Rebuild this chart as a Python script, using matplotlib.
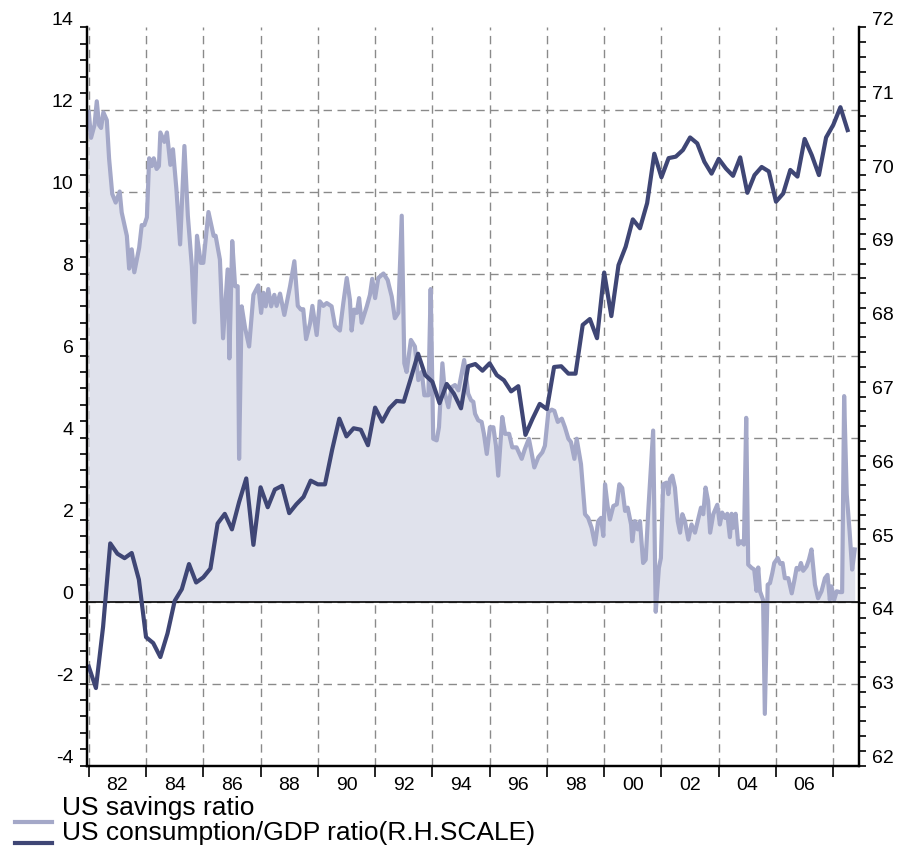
import matplotlib
matplotlib.use("Agg")
import matplotlib.pyplot as plt
import numpy as np
from matplotlib.lines import Line2D
from matplotlib.ticker import MultipleLocator
from matplotlib.transforms import ScaledTranslation

plt.rcParams["font.family"] = ["Liberation Sans", "DejaVu Sans"]
plt.rcParams["axes.unicode_minus"] = False

# US savings ratio (%), left scale (irregular vertices)
sav_years = [
    1981.00, 1981.08, 1981.20, 1981.28, 1981.36, 1981.43, 1981.51, 1981.63, 1981.71, 1981.82,
    1981.94, 1982.08, 1982.15, 1982.33, 1982.41, 1982.50, 1982.59, 1982.76, 1982.85, 1982.94,
    1983.03, 1983.11, 1983.20, 1983.27, 1983.37, 1983.45, 1983.50, 1983.64, 1983.73, 1983.85,
    1983.94, 1984.06, 1984.19, 1984.34, 1984.46, 1984.60, 1984.69, 1984.78, 1984.91, 1985.00,
    1985.18, 1985.36, 1985.43, 1985.58, 1985.69, 1985.85, 1985.91, 1986.01, 1986.11, 1986.20,
    1986.25, 1986.34, 1986.46, 1986.60, 1986.75, 1986.92, 1987.02, 1987.10, 1987.18, 1987.27,
    1987.37, 1987.48, 1987.56, 1987.68, 1987.83, 1988.03, 1988.18, 1988.30, 1988.41, 1988.49,
    1988.59, 1988.73, 1988.81, 1988.96, 1989.07, 1989.19, 1989.31, 1989.48, 1989.60, 1989.77,
    1989.89, 1990.01, 1990.12, 1990.18, 1990.27, 1990.36, 1990.44, 1990.53, 1990.71, 1990.82,
    1990.90, 1991.00, 1991.11, 1991.29, 1991.44, 1991.49, 1991.58, 1991.69, 1991.81, 1991.93,
    1992.02, 1992.10, 1992.25, 1992.39, 1992.51, 1992.63, 1992.72, 1992.86, 1992.94, 1993.03,
    1993.15, 1993.23, 1993.35, 1993.44, 1993.56, 1993.67, 1993.79, 1993.91, 1994.00, 1994.11,
    1994.25, 1994.35, 1994.43, 1994.49, 1994.60, 1994.72, 1994.80, 1994.90, 1995.01, 1995.13,
    1995.22, 1995.30, 1995.44, 1995.54, 1995.68, 1995.79, 1995.94, 1996.12, 1996.23, 1996.37,
    1996.44, 1996.56, 1996.70, 1996.84, 1996.93, 1997.05, 1997.17, 1997.26, 1997.38, 1997.52,
    1997.63, 1997.75, 1997.84, 1997.96, 1998.04, 1998.19, 1998.33, 1998.44, 1998.56, 1998.68,
    1998.79, 1998.89, 1998.97, 1999.03, 1999.12, 1999.20, 1999.32, 1999.44, 1999.53, 1999.63,
    1999.73, 1999.82, 1999.94, 1999.98, 2000.07, 2000.17, 2000.25, 2000.36, 2000.45, 2000.54,
    2000.63, 2000.71, 2000.80, 2000.91, 2000.98, 2001.06, 2001.18, 2001.24, 2001.30, 2001.38,
    2001.47, 2001.57, 2001.65, 2001.73, 2001.82, 2001.94, 2002.05, 2002.17, 2002.28, 2002.38,
    2002.46, 2002.54, 2002.63, 2002.70, 2002.81, 2002.95, 2003.04, 2003.12, 2003.22, 2003.30,
    2003.39, 2003.45, 2003.51, 2003.59, 2003.68, 2003.78, 2003.88, 2003.96, 2004.03, 2004.15,
    2004.24, 2004.32, 2004.38, 2004.44, 2004.55, 2004.61, 2004.71, 2004.79, 2004.87, 2004.94,
    2005.06, 2005.15, 2005.23, 2005.31, 2005.43, 2005.55, 2005.64, 2005.72, 2005.80, 2005.87,
    2005.95, 2006.07, 2006.15, 2006.24, 2006.36, 2006.47, 2006.59, 2006.71, 2006.80, 2006.88,
    2006.94, 2007.03, 2007.12, 2007.23, 2007.31, 2007.38, 2007.47, 2007.57, 2007.66, 2007.75,
]
sav_values = [
    11.94, 11.31, 11.62, 12.20, 11.62, 11.55, 11.93, 11.74, 10.80, 9.94,
    9.73, 10.00, 9.49, 8.92, 8.12, 8.59, 8.03, 8.63, 9.18, 9.18,
    9.37, 10.81, 10.62, 10.81, 10.55, 10.62, 11.44, 11.21, 11.44, 10.65,
    11.03, 10.06, 8.71, 11.11, 9.41, 8.18, 6.81, 8.92, 8.26, 8.26,
    9.50, 8.92, 8.92, 8.34, 6.42, 8.10, 5.93, 8.79, 7.69, 7.69,
    3.48, 7.20, 6.67, 6.22, 7.48, 7.71, 7.04, 7.53, 7.20, 7.62,
    7.20, 7.48, 7.21, 7.51, 6.99, 7.69, 8.30, 7.21, 7.12, 7.13,
    6.40, 6.79, 7.21, 6.50, 7.32, 7.21, 7.28, 7.20, 6.72, 6.61,
    7.28, 7.89, 7.36, 6.61, 7.12, 7.04, 7.40, 6.80, 7.20, 7.48,
    7.87, 7.40, 7.89, 8.00, 7.84, 7.69, 7.44, 6.91, 7.04, 9.41,
    5.81, 5.60, 6.38, 6.22, 5.40, 5.60, 5.03, 5.03, 7.62, 3.97,
    3.93, 4.25, 5.81, 5.07, 4.74, 5.23, 5.28, 5.15, 5.48, 5.89,
    5.07, 4.91, 4.87, 4.58, 4.42, 4.38, 4.09, 3.60, 4.25, 4.25,
    3.80, 3.07, 4.50, 4.09, 4.09, 3.76, 3.76, 3.48, 3.72, 3.97,
    3.72, 3.27, 3.52, 3.64, 3.80, 4.62, 4.68, 4.65, 4.38, 4.46,
    4.25, 3.97, 3.89, 3.48, 3.97, 3.35, 2.13, 2.04, 1.80, 1.39,
    1.96, 2.04, 1.60, 2.86, 2.33, 2.00, 2.33, 2.37, 2.86, 2.77,
    2.21, 2.29, 1.88, 1.47, 1.96, 1.76, 1.96, 0.94, 1.02, 2.21,
    3.27, 4.17, -0.25, 0.82, 1.06, 2.86, 2.90, 2.62, 2.99, 3.07,
    2.78, 1.96, 1.68, 2.13, 1.96, 1.51, 1.88, 1.68, 2.00, 2.29,
    2.13, 2.78, 2.45, 1.68, 2.13, 2.36, 1.88, 2.17, 2.04, 2.14,
    1.57, 2.14, 1.80, 2.14, 1.39, 1.47, 1.39, 4.48, 0.90, 0.82,
    0.78, 0.26, 0.83, 0.25, 0.04, -2.74, 0.41, 0.45, 0.69, 0.94,
    1.06, 0.92, 0.94, 0.57, 0.57, 0.20, 0.51, 0.82, 0.78, 0.94,
    0.75, 0.86, 1.02, 1.27, 0.41, 0.08, 0.25, 0.57, 0.65, 0.04,
    0.37, 0.04, 0.25, 0.23, 0.23, 5.01, 2.62, 1.72, 0.78, 1.27,
]

# US consumption/GDP ratio (%), right scale - quarterly from 1981Q1
cons_start = 1981.0
cons_values = [
    63.34, 63.05, 63.88, 65.01, 64.87, 64.81, 64.88, 64.52, 63.74, 63.66,
    63.47, 63.79, 64.23, 64.39, 64.73, 64.48, 64.55, 64.67, 65.28, 65.41,
    65.20, 65.57, 65.89, 64.99, 65.77, 65.50, 65.74, 65.79, 65.42, 65.54,
    65.64, 65.86, 65.81, 65.81, 66.28, 66.70, 66.46, 66.57, 66.55, 66.34,
    66.85, 66.66, 66.84, 66.94, 66.93, 67.25, 67.58, 67.29, 67.20, 66.91,
    67.17, 67.04, 66.84, 67.41, 67.44, 67.35, 67.45, 67.29, 67.22, 67.07,
    67.14, 66.48, 66.70, 66.90, 66.83, 67.40, 67.41, 67.31, 67.31, 67.97,
    68.05, 67.79, 68.68, 68.09, 68.78, 69.03, 69.40, 69.28, 69.62, 70.29,
    69.97, 70.23, 70.25, 70.34, 70.51, 70.43, 70.18, 70.02, 70.22, 70.09,
    69.99, 70.24, 69.76, 70.00, 70.11, 70.05, 69.64, 69.75, 70.07, 69.98,
    70.49, 70.27, 70.00, 70.51, 70.68, 70.92, 70.61,
]
cons_years = cons_start + 0.25 * np.arange(len(cons_values))

grid_years = list(range(1981, 2008, 2))
label_years = list(range(1982, 2007, 2))
year_labels = [f"{y % 100:02d}" for y in label_years]

sav_line = "#A4A8C8"
sav_fill = "#E0E2EC"
cons_line = "#3F4675"

fig = plt.figure(figsize=(9.05, 8.46), dpi=100)
ax = fig.add_axes([0.0965, 0.0951, 0.8527, 0.8724])
ax2 = ax.twinx()

ax.fill_between(sav_years, sav_values, 0, color=sav_fill, lw=0, zorder=1)
ax.plot(sav_years, sav_values, color=sav_line, lw=3, zorder=2)
ax.axhline(0, color="black", lw=1.2, zorder=3)
ax2.plot(cons_years, cons_values, color=cons_line, lw=3, zorder=2)

ax.set_xlim(1980.95, 2007.9)
ax.set_ylim(-4, 14)
ax2.set_ylim(62, 72)

ax.set_xticks(grid_years, labels=[""] * len(grid_years))
ax.set_xticks(label_years, labels=year_labels, minor=True)
ax.set_yticks(range(-4, 15, 2))
ax.yaxis.set_minor_locator(MultipleLocator(0.4))
ax2.set_yticks(range(62, 73))
ax2.yaxis.set_minor_locator(MultipleLocator(0.2))

ax.set_axisbelow(True)
ax.grid(True, which="major", color="#8a8a8a", linestyle=(0, (6, 4)), lw=1)
# no dashed line along the open top edge
ax.get_ygridlines()[-1].set_visible(False)

ax.tick_params(axis="x", which="major", direction="out", length=8, width=1.2)
ax.tick_params(axis="x", which="minor", length=0, labelsize=14, pad=8)
ax.tick_params(axis="y", which="both", direction="out", length=5, width=1.2,
               labelsize=14, pad=5)
ax2.tick_params(axis="y", which="both", direction="out", length=5, width=1.2,
                labelsize=14, pad=4)

for a in (ax, ax2):
    a.spines["top"].set_visible(False)
    for s in ("left", "right", "bottom"):
        a.spines[s].set_linewidth(1.6)

# y labels sit a little above their ticks in the original
shift = ScaledTranslation(0, 0.09, fig.dpi_scale_trans)
for lbl in ax.get_yticklabels() + ax2.get_yticklabels():
    lbl.set_transform(lbl.get_transform() + shift)

# legend below the plot
fig.add_artist(Line2D([15 / 905, 52 / 905], [1 - 822 / 846] * 2,
                      transform=fig.transFigure, color=sav_line, lw=3))
fig.add_artist(Line2D([15 / 905, 52 / 905], [1 - 843 / 846] * 2,
                      transform=fig.transFigure, color=cons_line, lw=3))
fig.text(62 / 905, 1 - 815 / 846, "US savings ratio", fontsize=19, va="baseline")
fig.text(62 / 905, 1 - 840 / 846, "US consumption/GDP ratio(R.H.SCALE)",
         fontsize=19, va="baseline")

fig.savefig("out.png", dpi=100)
